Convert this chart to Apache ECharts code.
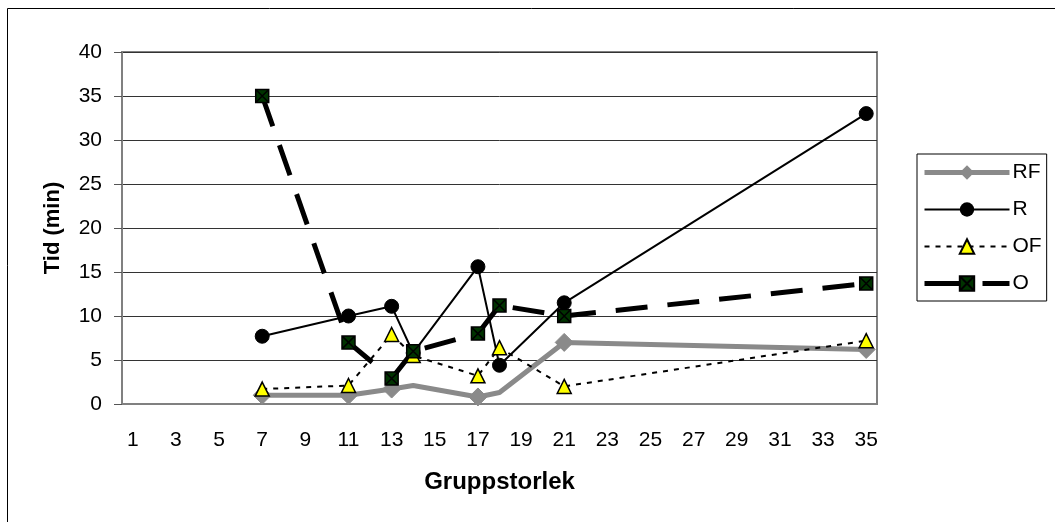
<!DOCTYPE html>
<html>
<head>
<meta charset="utf-8">
<script src="https://cdn.jsdelivr.net/npm/echarts@6/dist/echarts.min.js"></script>
<style>
html,body{margin:0;padding:0;background:#fff;}
#chart{width:1055px;height:522px;}
</style>
</head>
<body>
<div id="chart"></div>
<script>
// Tick labels / categories of the x axis (Gruppstorlek)
const categories = ['1','2','3','4','5','6','7','8','9','10','11','12','13','14','15','16','17','18','19','20','21','22','23','24','25','26','27','28','29','30','31','32','33','34','35'];
// Group sizes that carry data
const groupSizes = ['7','11','13','14','17','18','21','35'];
// Series values (Tid, min)
const RF = [1.0, 1.0, 1.7, 2.1, 0.8, 1.3, 7.0, 6.2];
const R  = [7.7, 10.0, 11.1, 5.8, 15.6, 4.4, 11.5, 33.0];
const OF = [1.7, 2.1, 7.9, 5.5, 3.2, 6.4, 2.0, 7.2];
const O  = [35.0, 7.0, 2.9, 6.0, 8.0, 11.2, 10.0, 13.7];

const pair = arr => groupSizes.map((g, i) => [g, arr[i]]);
const FONT = "'Liberation Sans', Arial, sans-serif";
const boxX = 'path://M0,0L10,0L10,10L0,10Z M0,0L10,10 M10,0L0,10';

const styles = {
  RF: {line: {color: '#8a8a8a', width: 5, type: 'solid'}, item: {color: '#8a8a8a', borderColor: '#8a8a8a'}},
  R:  {line: {color: '#000', width: 2, type: 'solid'}, item: {color: '#000', borderColor: '#000'}},
  OF: {line: {color: '#000', width: 2, type: [5, 6]}, item: {color: '#ffff00', borderColor: '#000', borderWidth: 1.5}},
  O:  {line: {color: '#000', width: 5, type: [32, 20]}, item: {color: '#003300', borderColor: '#000', borderWidth: 1.5}}
};

const chart = echarts.init(document.getElementById('chart'), null, {renderer: 'canvas'});
chart.setOption({
  animation: false,
  backgroundColor: '#fff',
  textStyle: {fontFamily: FONT},
  graphic: [{
    type: 'rect', silent: true, z: 100,
    shape: {x: 7.5, y: 8.5, width: 3000, height: 3000},
    style: {fill: 'none', stroke: '#000', lineWidth: 1}
  }],
  grid: {
    left: 122, right: 178, top: 52, bottom: 118,
    show: true, borderColor: '#808080', borderWidth: 2, backgroundColor: 'transparent'
  },
  legend: {
    orient: 'vertical',
    left: 917, top: 154,
    padding: [8, 5, 7, 5],
    itemGap: 16,
    itemWidth: 85, itemHeight: 18,
    borderColor: '#000', borderWidth: 1,
    textStyle: {fontFamily: FONT, fontSize: 21, color: '#000', padding: [0,0,0,-2]},
    data: [
      {name: 'RF', lineStyle: {width: 5, color: '#8a8a8a'}},
      {name: 'R', lineStyle: {width: 2, color: '#000'}},
      {name: 'OF', lineStyle: {width: 2, color: '#000', type: [5, 6]}},
      {name: 'O', lineStyle: {width: 5, color: '#000', type: [36, 22]}}
    ]
  },
  xAxis: {
    type: 'category',
    data: categories,
    boundaryGap: true,
    name: 'Gruppstorlek',
    nameLocation: 'middle',
    nameGap: 66,
    nameTextStyle: {fontFamily: FONT, fontSize: 24, fontWeight: 'bold', color: '#000'},
    axisLine: {lineStyle: {color: '#808080', width: 2}},
    axisTick: {interval: 1, length: 8, lineStyle: {color: '#555', width: 1}},
    axisLabel: {interval: 1, margin: 26, fontFamily: FONT, fontSize: 21, color: '#000'},
    splitLine: {show: false}
  },
  yAxis: {
    type: 'value',
    min: 0, max: 40, interval: 5,
    name: 'Tid (min)',
    nameLocation: 'middle',
    nameRotate: 90,
    nameGap: 58,
    nameTextStyle: {fontFamily: FONT, fontSize: 22, fontWeight: 'bold', color: '#000'},
    axisLine: {show: true, lineStyle: {color: '#808080', width: 2}},
    axisTick: {show: true, length: 8, lineStyle: {color: '#555', width: 1}},
    axisLabel: {margin: 20, fontFamily: FONT, fontSize: 21, color: '#000'},
    splitLine: {lineStyle: {color: '#333', width: 1}}
  },
  series: [
    {
      name: 'RF', type: 'line', data: pair(RF),
      symbol: 'diamond', symbolSize: 18,
      lineStyle: styles.RF.line, itemStyle: styles.RF.item
    },
    {
      name: 'R', type: 'line', data: pair(R),
      symbol: 'circle', symbolSize: 14,
      lineStyle: styles.R.line, itemStyle: styles.R.item
    },
    {
      name: 'OF', type: 'line', data: pair(OF),
      symbol: 'triangle', symbolSize: 14,
      lineStyle: styles.OF.line, itemStyle: styles.OF.item
    },
    {
      name: 'O', type: 'line', data: pair(O),
      symbol: boxX, symbolSize: 13,
      lineStyle: styles.O.line, itemStyle: styles.O.item
    }
  ]
});
</script>
</body>
</html>
